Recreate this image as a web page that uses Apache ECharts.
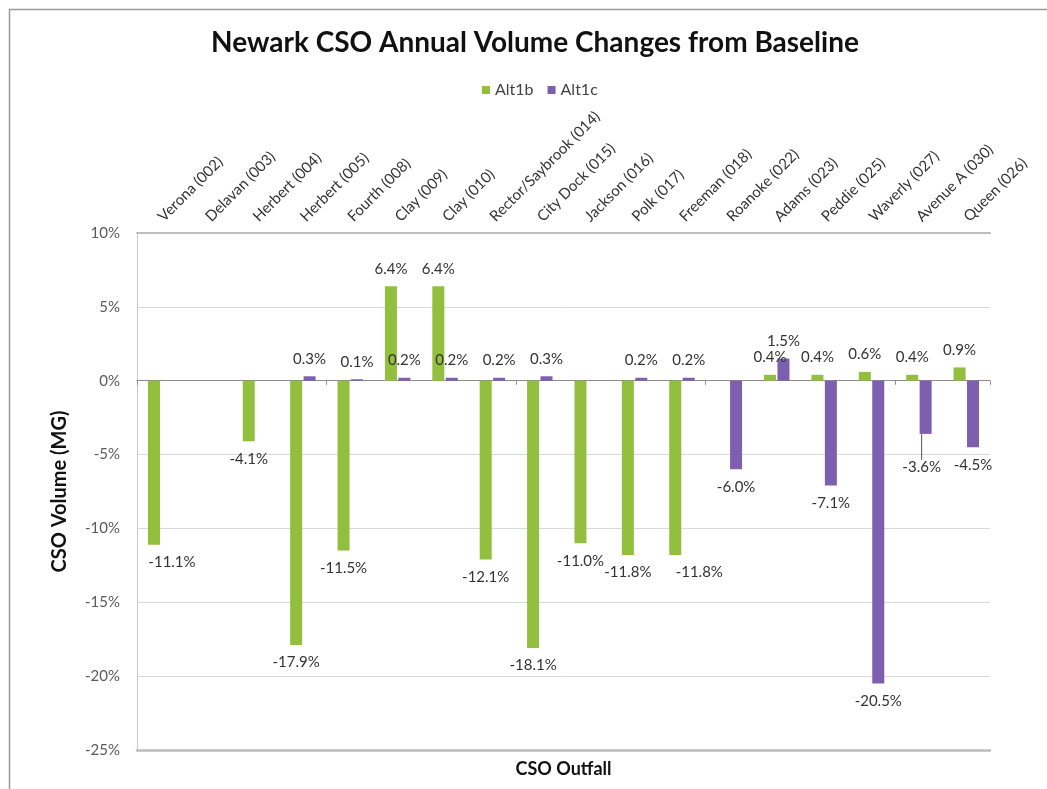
<!DOCTYPE html>
<html>
<head>
<meta charset="utf-8">
<title>Newark CSO Annual Volume Changes from Baseline</title>
<script src="https://cdn.jsdelivr.net/npm/echarts@6/dist/echarts.min.js"></script>
<style>
  html, body { margin: 0; padding: 0; background: #ffffff; }
  #chart { width: 1047px; height: 789px; }
</style>
</head>
<body>
<div id="chart"></div>
<script>
// CSO outfalls along the category axis
const outfalls = [
  'Verona (002)', 'Delavan (003)', 'Herbert (004)', 'Herbert (005)', 'Fourth (008)',
  'Clay (009)', 'Clay (010)', 'Rector/Saybrook (014)', 'City Dock (015)', 'Jackson (016)',
  'Polk (017)', 'Freeman (018)', 'Roanoke (022)', 'Adams (023)', 'Peddie (025)',
  'Waverly (027)', 'Avenue A (030)', 'Queen (026)'
];

// Percent change in annual CSO volume from baseline (null = no value)
const alt1b = [-11.1, null, -4.1, -17.9, -11.5, 6.4, 6.4, -12.1, -18.1, -11.0,
               -11.8, -11.8, null, 0.4, 0.4, 0.6, 0.4, 0.9];
const alt1c = [null, null, null, 0.3, 0.1, 0.2, 0.2, 0.2, 0.3, null,
               0.2, 0.2, -6.0, 1.5, -7.1, -20.5, -3.6, -4.5];

// Value axis ticks (percent)
const yTicks = { min: -25, max: 10, step: 5 };

// Hand-placed data labels (pixel nudges by series and category index)
const labelNudges = {
  Alt1b: { 0: { dx: 18 }, 11: { dx: 24 } },
  Alt1c: { 16: { dx: -4, dy: 16 } }
};

const FONT = 'Lato, "Open Sans", sans-serif';
const GREEN = '#93bf3e';
const PURPLE = '#7d5fb0';

function barData(name, values) {
  const nudges = labelNudges[name] || {};
  return values.map((v, i) => {
    const item = {
      value: v,
      label: { position: (v !== null && v < 0) ? 'bottom' : 'top' }
    };
    if (nudges[i] && nudges[i].dy) {
      item.labelLine = { show: true, length2: 0, lineStyle: { color: '#555', width: 1 } };
    }
    return item;
  });
}

function pctLabel(p) {
  return (p.value === null || p.value === undefined) ? '' : p.value.toFixed(1) + '%';
}

function nudgeLayout(name) {
  return function (params) {
    const n = (labelNudges[name] || {})[params.dataIndex];
    return n ? { dx: n.dx || 0, dy: n.dy || 0 } : {};
  };
}

const chart = echarts.init(document.getElementById('chart'), null, { renderer: 'canvas' });

chart.setOption({
  backgroundColor: '#ffffff',
  animation: false,
  graphic: [{
    type: 'rect',
    left: 7, top: 7,
    shape: { width: 1100, height: 900 },
    style: { fill: 'none', stroke: '#9a9a9a', lineWidth: 1.5 },
    silent: true, z: -10
  }],
  title: {
    text: 'Newark CSO Annual Volume Changes from Baseline',
    left: 530, top: 24, textAlign: 'center',
    textStyle: { fontFamily: FONT, fontWeight: 'bold', fontSize: 28, color: '#111' }
  },
  legend: {
    data: ['Alt1b', 'Alt1c'],
    left: 477, top: 77,
    itemWidth: 8, itemHeight: 8, itemGap: 14,
    icon: 'rect',
    textStyle: { fontFamily: FONT, fontSize: 16, color: '#444' }
  },
  grid: { left: 137, right: 57, top: 233, bottom: 39 },
  xAxis: [
    {
      // axis line and ticks drawn through zero
      type: 'category', data: outfalls, position: 'bottom',
      axisLine: { onZero: true, lineStyle: { color: '#8c8c8c', width: 1 } },
      axisTick: { show: true, length: 4, lineStyle: { color: '#8c8c8c' } },
      axisLabel: { show: false },
      splitLine: { show: false }
    },
    {
      // category names along the top edge
      type: 'category', data: outfalls, position: 'top',
      axisLine: { show: true, onZero: false, lineStyle: { color: '#bdbdbd', width: 2 } },
      axisTick: { show: false },
      axisLabel: {
        interval: 0, rotate: -45, margin: 14,
        fontFamily: FONT, fontSize: 15, color: '#333'
      }
    },
    {
      // bottom frame and axis title
      type: 'category', data: outfalls, position: 'bottom',
      name: 'CSO Outfall', nameLocation: 'middle', nameGap: 10,
      nameTextStyle: { fontFamily: FONT, fontWeight: 'bold', fontSize: 18, color: '#111' },
      axisLine: { show: true, onZero: false, lineStyle: { color: '#bdbdbd', width: 2.5 } },
      axisTick: { show: false },
      axisLabel: { show: false }
    }
  ],
  yAxis: {
    type: 'value',
    min: yTicks.min, max: yTicks.max, interval: yTicks.step,
    name: 'CSO Volume (MG)', nameLocation: 'middle', nameGap: 67,
    nameTextStyle: { fontFamily: FONT, fontWeight: 'bold', fontSize: 20, color: '#111' },
    axisLine: { show: true, lineStyle: { color: '#c8c8c8' } },
    axisTick: { show: false },
    axisLabel: {
      formatter: '{value}%', margin: 17,
      fontFamily: FONT, fontSize: 15, color: '#5a5a5a'
    },
    splitLine: { show: true, lineStyle: { color: '#d9d9d9', width: 1 } }
  },
  series: [
    {
      name: 'Alt1b', type: 'bar', xAxisIndex: 0,
      data: barData('Alt1b', alt1b),
      barWidth: 12, barGap: '12%',
      itemStyle: { color: GREEN },
      label: {
        show: true, distance: 10, formatter: pctLabel,
        fontFamily: FONT, fontSize: 15, color: '#333'
      },
      labelLayout: nudgeLayout('Alt1b')
    },
    {
      name: 'Alt1c', type: 'bar', xAxisIndex: 0,
      data: barData('Alt1c', alt1c),
      barWidth: 12, barGap: '12%',
      itemStyle: { color: PURPLE },
      label: {
        show: true, distance: 10, formatter: pctLabel,
        fontFamily: FONT, fontSize: 15, color: '#333'
      },
      labelLayout: nudgeLayout('Alt1c')
    }
  ]
});
</script>
</body>
</html>
